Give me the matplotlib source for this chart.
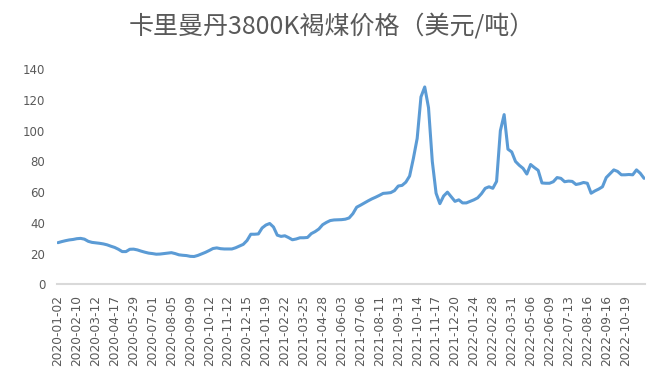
import matplotlib
matplotlib.use("Agg")
import matplotlib.pyplot as plt
import numpy as np

plt.rcParams['font.family'] = ['Noto Sans CJK SC', 'DejaVu Sans']

title = "卡里曼丹3800K褐煤价格（美元/吨）"

tick_labels = [
    "2020-01-02", "2020-02-10", "2020-03-12", "2020-04-17", "2020-05-29",
    "2020-07-01", "2020-08-05", "2020-09-09", "2020-10-12", "2020-11-12",
    "2020-12-15", "2021-01-19", "2021-02-22", "2021-03-25", "2021-04-28",
    "2021-06-03", "2021-07-06", "2021-08-11", "2021-09-13", "2021-10-14",
    "2021-11-17", "2021-12-20", "2022-01-24", "2022-02-28", "2022-03-31",
    "2022-05-06", "2022-06-09", "2022-07-13", "2022-08-16", "2022-09-16",
    "2022-10-19",
]

# price readings, 5 per tick interval (USD/t)
prices = [
    27.1, 27.8, 28.4, 28.9, 29.2,
    29.7, 29.9, 29.4, 28.0, 27.3,
    27.0, 26.7, 26.3, 25.7, 24.8,
    24.0, 22.8, 21.3, 21.3, 22.8,
    22.9, 22.4, 21.6, 20.9, 20.3,
    20.0, 19.6, 19.7, 20.0, 20.3,
    20.6, 20.0, 19.2, 18.9, 18.7,
    18.2, 18.1, 18.8, 19.8, 20.8,
    22.0, 23.3, 23.7, 23.2, 23.0,
    23.0, 23.0, 23.8, 24.9, 26.0,
    28.5, 32.6, 32.6, 32.8, 36.7,
    38.6, 39.6, 37.3, 32.0, 31.2,
    31.6, 30.4, 29.0, 29.5, 30.3,
    30.3, 30.5, 33.0, 34.3, 36.0,
    38.8, 40.3, 41.5, 41.9, 42.0,
    42.1, 42.4, 43.2, 46.0, 50.2,
    51.5, 52.9, 54.3, 55.6, 56.7,
    57.9, 59.2, 59.4, 59.7, 61.0,
    64.0, 64.4, 66.5, 70.5, 82.0,
    95.0, 122.0, 128.5, 115.0, 80.0,
    59.3, 52.5, 57.5, 60.0, 57.0,
    54.0, 55.0, 53.0, 53.0, 54.0,
    55.0, 56.3, 59.0, 62.5, 63.5,
    62.5, 67.0, 100.0, 110.5, 88.0,
    86.2, 80.0, 77.5, 75.5, 71.8,
    78.0, 76.0, 74.2, 66.0, 65.8,
    65.8, 66.8, 69.5, 69.0, 66.8,
    67.2, 67.0, 65.0, 65.5, 66.3,
    65.8, 59.3, 60.8, 62.0, 63.5,
    69.5, 72.0, 74.5, 73.5, 71.3,
    71.3, 71.5, 71.3, 74.5, 72.3,
    69.0,
]
points_per_tick = 5

x = np.arange(len(prices)) / points_per_tick

fig = plt.figure(figsize=(6.64, 3.90), dpi=100)
ax = fig.add_axes([57/664, 1 - 284.3/390, (645-57)/664, (284.3-69.3)/390])

ax.plot(x, prices, color="#5b9bd5", lw=2.2, solid_joinstyle="round",
        solid_capstyle="round")

ax.set_ylim(0, 140)
ax.set_yticks(np.arange(0, 141, 20))
ax.set_xlim(-0.05, x[-1] + 0.05)
ax.set_xticks(np.arange(len(tick_labels)))
ax.set_xticklabels(tick_labels, rotation=90, fontsize=8.8, color="#595959",
                   family=['DejaVu Sans'])
ax.tick_params(axis='y', labelsize=8.5, colors="#595959", length=0, pad=8.5)
ax.tick_params(axis='x', length=0, pad=7.5)
for lab in ax.get_yticklabels():
    lab.set_family(['DejaVu Sans'])

for s in ["top", "right", "left"]:
    ax.spines[s].set_visible(False)
ax.spines["bottom"].set_color("#d9d9d9")
ax.spines["bottom"].set_linewidth(1.5)

fig.text(332/664, 1 - 27/390, title, ha="center", va="center",
         fontsize=18, color="#595959")

fig.savefig("out.png", dpi=100)
